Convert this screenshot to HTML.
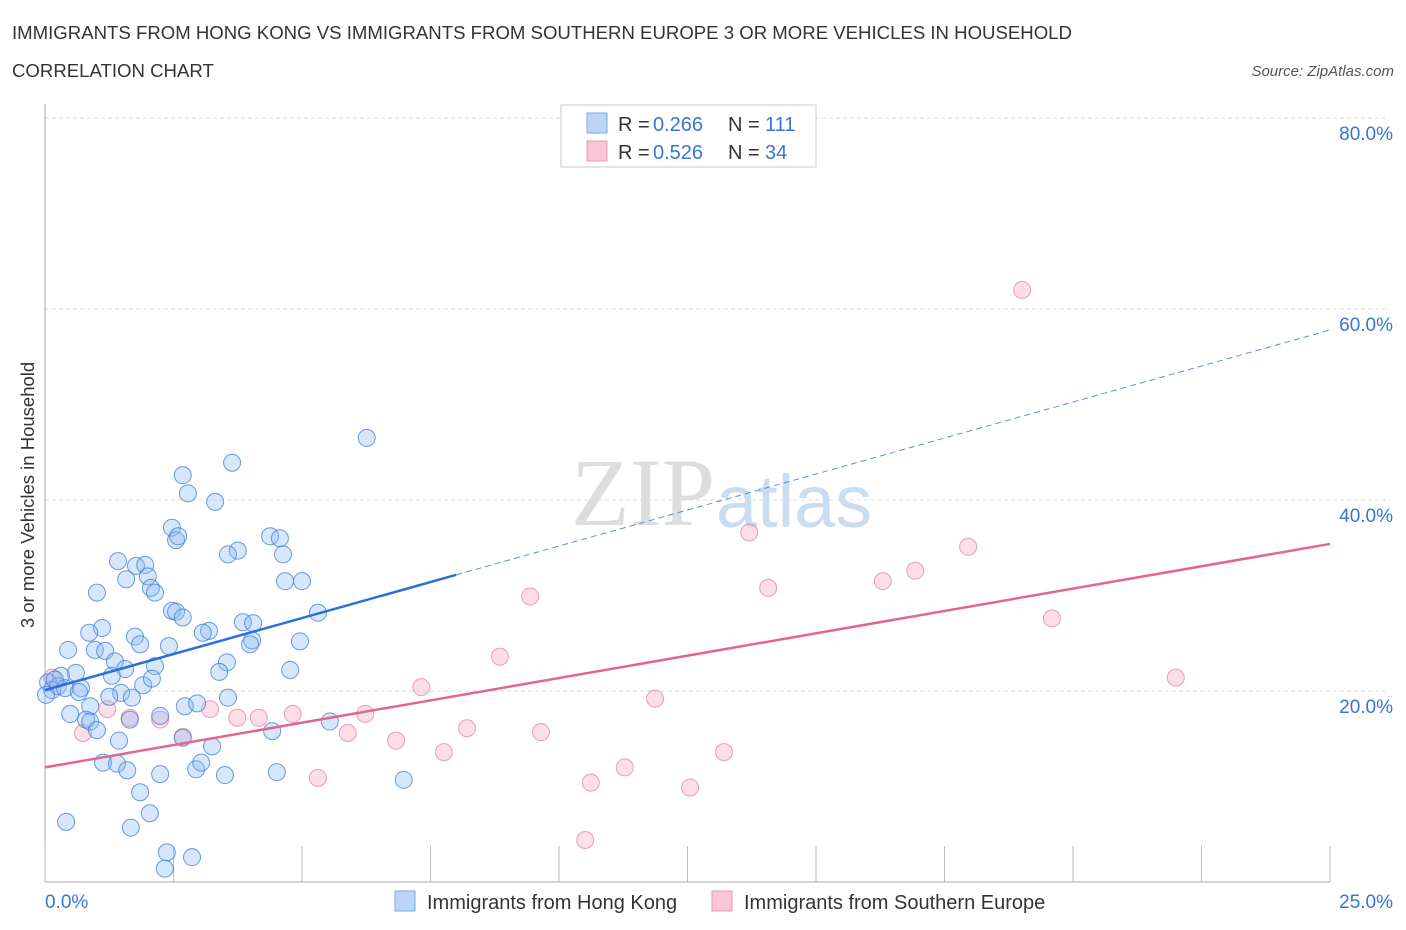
<!DOCTYPE html>
<html><head><meta charset="utf-8"><style>
body{margin:0;background:#fff;font-family:"Liberation Sans",sans-serif;}
svg{display:block}
</style></head><body>
<svg id="chart" width="1406" height="930">
<text x="12" y="39" font-size="18.6" fill="#333">IMMIGRANTS FROM HONG KONG VS IMMIGRANTS FROM SOUTHERN EUROPE 3 OR MORE VEHICLES IN HOUSEHOLD</text>
<text x="12" y="77" font-size="18.6" fill="#333">CORRELATION CHART</text>
<text x="1394" y="76" font-size="15" fill="#555" font-style="italic" text-anchor="end">Source: ZipAtlas.com</text>
<text x="715" y="525" font-size="96" fill="#ddd" text-anchor="end" font-family="Liberation Serif,serif">ZIP</text>
<text x="716" y="527" font-size="74" fill="#c9dcf0">atlas</text>
<g id="grid"></g><g id="axes"></g><g id="marks"></g>
<text transform="translate(34,495) rotate(-90)" font-size="18.5" fill="#333" text-anchor="middle">3 or more Vehicles in Household</text>
<g>
<rect x="561" y="105" width="255" height="62" fill="#fff" stroke="#ccc"/>
<rect x="587" y="113" width="20" height="20" fill="#bcd5f5" stroke="#7aaae8"/>
<rect x="587" y="141" width="20" height="20" fill="#f9c6d6" stroke="#ec9ab5"/>
<text x="618" y="131" font-size="20" fill="#333">R =</text>
<text x="653" y="131" font-size="20" fill="#3a75d3">0.266</text>
<text x="728" y="131" font-size="20" fill="#333">N =</text>
<text x="765" y="131" font-size="20" fill="#3a75d3">111</text>
<text x="618" y="159" font-size="20" fill="#333">R =</text>
<text x="653" y="159" font-size="20" fill="#3a75d3">0.526</text>
<text x="728" y="159" font-size="20" fill="#333">N =</text>
<text x="765" y="159" font-size="20" fill="#3a75d3">34</text>
</g>
<g>
<rect x="395" y="891" width="20" height="20" fill="#bcd5f5" stroke="#7aaae8"/>
<text x="427" y="909" font-size="20" fill="#333">Immigrants from Hong Kong</text>
<rect x="712" y="891" width="20" height="20" fill="#f9c6d6" stroke="#ec9ab5"/>
<text x="744" y="909" font-size="20" fill="#333">Immigrants from Southern Europe</text>
</g>
</svg>
<script>
const yTicks=[20,40,60,80];
const yTickLabels=["20.0%","40.0%","60.0%","80.0%"];
const xTickVals=[0,2.5,5,7.5,10,12.5,15,17.5,20,22.5,25];
const blueX=[6.26,3.64,2.68,2.78,3.31,2.47,2.55,2.59,3.75,3.56,4.38,4.57,4.63,1.42,1.77,1.95,2.00,1.58,2.06,2.14,1.01,4.67,5.00,2.47,2.55,2.68,5.31,3.85,4.05,1.11,0.86,1.75,1.85,3.19,3.07,2.41,4.03,3.99,4.96,0.45,0.97,1.17,1.36,3.54,3.39,1.56,2.14,4.77,1.30,0.60,0.31,0.06,0.14,0.25,0.39,0.70,0.66,1.48,1.91,2.08,1.25,1.69,0.88,0.49,0.80,0.88,2.72,2.96,3.56,2.24,1.65,1.01,1.44,2.68,3.25,4.42,5.54,1.13,1.40,1.60,2.24,2.94,3.04,3.50,4.51,6.98,1.85,2.04,0.41,1.67,2.37,2.86,2.33,0.02,0.19];
const blueY=[46.5,43.9,42.6,40.7,39.8,37.1,35.8,36.2,34.7,34.3,36.2,36.0,34.3,33.6,33.1,33.2,32.0,31.7,30.8,30.3,30.3,31.5,31.5,28.4,28.3,27.7,28.2,27.2,27.1,26.6,26.1,25.7,24.9,26.3,26.1,24.7,25.3,24.9,25.2,24.3,24.3,24.2,23.1,23.0,22.0,22.3,22.6,22.2,21.6,21.9,21.6,20.9,20.1,20.5,20.3,20.3,19.9,19.8,20.6,21.3,19.4,19.3,18.4,17.6,17.0,16.8,18.4,18.7,19.3,17.4,17.0,15.9,14.8,15.1,14.2,15.8,16.8,12.5,12.4,11.7,11.3,11.8,12.5,11.2,11.5,10.7,9.4,7.2,6.3,5.7,3.1,2.6,1.4,19.6,21.2];
const pinkX=[19.01,13.70,17.96,16.93,16.30,14.07,9.44,19.59,8.85,22.0,7.32,11.87,3.21,3.74,4.16,4.82,6.23,2.24,0.74,2.68,5.89,8.21,9.65,6.83,7.76,13.21,11.28,5.31,10.62,12.55,10.51,1.21,0.14,1.65];
const pinkY=[62.0,36.6,35.1,32.6,31.5,30.8,29.9,27.6,23.6,21.4,20.4,19.2,18.1,17.2,17.2,17.6,17.6,17.0,15.6,15.2,15.6,16.1,15.7,14.8,13.6,13.6,12.0,10.9,10.4,9.9,4.4,18.1,21.4,17.2];
const blueTrend=[20.1,57.8];
const blueSolidEnd=8.0;
const pinkTrend=[12.0,35.4];

const NS="http://www.w3.org/2000/svg";
const X0=45,X1=1330,Y0=882,PXY=191/20;
function sx(v){return X0+(v/25)*(X1-X0);}
function sy(v){return Y0-v*PXY;}
function mk(t,a,p){const e=document.createElementNS(NS,t);for(const k in a)e.setAttribute(k,a[k]);p.appendChild(e);return e;}
const grid=document.getElementById('grid'),axes=document.getElementById('axes'),marks=document.getElementById('marks');
yTicks.forEach((v,i)=>{
 const l=mk('line',{x1:X0,x2:X1+60,y1:sy(v),y2:sy(v),stroke:'#ddd','stroke-dasharray':'4,3'},grid);
 
 
 const t=mk('text',{x:1393,y:sy(v)+22,'font-size':19,fill:'#3a75d3','text-anchor':'end'},axes);
 t.textContent=yTickLabels[i];
 
 
});
const ya=mk('line',{x1:X0,x2:X0,y1:104,y2:Y0,stroke:'#aaa'},axes);


const xa=mk('line',{x1:X0,x2:X1,y1:Y0,y2:Y0,stroke:'#aaa'},axes);


xTickVals.forEach(v=>{
 const t=mk('line',{x1:sx(v),x2:sx(v),y1:Y0,y2:Y0-36,stroke:'#bbb'},axes);
 
 
});
const xl0=mk('text',{x:45,y:908,'font-size':19,fill:'#3a75d3'},axes);xl0.textContent='0.0%';


const xl1=mk('text',{x:1393,y:908,'font-size':19,fill:'#3a75d3','text-anchor':'end'},axes);xl1.textContent='25.0%';


pinkX.forEach((x,i)=>{
 const c=mk('circle',{cx:sx(x),cy:sy(pinkY[i]),r:8.5,fill:'rgba(244,160,188,0.35)',stroke:'rgba(232,120,160,0.7)','stroke-width':1},marks);
 
 
});
blueX.forEach((x,i)=>{
 const c=mk('circle',{cx:sx(x),cy:sy(blueY[i]),r:8.5,fill:'rgba(140,185,240,0.35)',stroke:'rgba(60,120,220,0.75)','stroke-width':1},marks);
 
 
});
function ty(tr,x){return tr[0]+(tr[1]-tr[0])*x/25;}
const b1=mk('line',{x1:sx(0),y1:sy(ty(blueTrend,0)),x2:sx(blueSolidEnd),y2:sy(ty(blueTrend,blueSolidEnd)),stroke:'#2a6fd6','stroke-width':2.5},marks);


const b2=mk('line',{x1:sx(blueSolidEnd),y1:sy(ty(blueTrend,blueSolidEnd)),x2:sx(25),y2:sy(ty(blueTrend,25)),stroke:'#5a90dc','stroke-width':1,'stroke-dasharray':'6,4'},marks);


const p1=mk('line',{x1:sx(0),y1:sy(pinkTrend[0]),x2:sx(25),y2:sy(pinkTrend[1]),stroke:'#e06690','stroke-width':2.5},marks);


</script>
</body></html>
